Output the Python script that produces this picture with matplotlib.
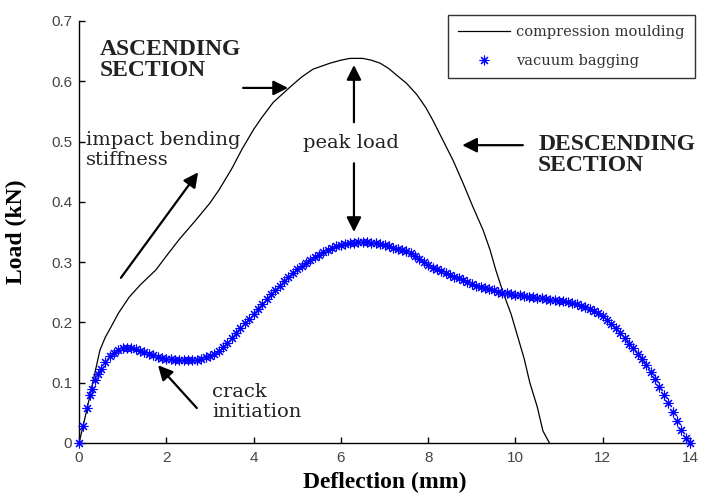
import matplotlib
matplotlib.use("Agg")
import matplotlib.pyplot as plt

# ---- data ----
cm_x = [0, 0.1, 0.2, 0.3, 0.4, 0.48, 0.6, 0.73, 0.9, 1.15, 1.4, 1.76, 2.0, 2.3, 2.68,
        3.0, 3.21, 3.5, 3.74, 4.0, 4.19, 4.45, 4.83, 5.1, 5.36, 5.75, 6.0, 6.21, 6.5,
        6.7, 6.9, 7.1, 7.28, 7.5, 7.74, 7.95, 8.11, 8.34, 8.57, 8.8, 9.03, 9.26, 9.42,
        9.55, 9.72, 9.9, 10.03, 10.2, 10.33, 10.5, 10.63, 10.78]
cm_y = [0, 0.03, 0.062, 0.095, 0.128, 0.154, 0.175, 0.192, 0.215, 0.242, 0.262, 0.287, 0.31,
        0.338, 0.37, 0.398, 0.42, 0.455, 0.488, 0.52, 0.54, 0.565, 0.59, 0.607, 0.62,
        0.630, 0.635, 0.638, 0.638, 0.635, 0.630, 0.621, 0.61, 0.597, 0.578, 0.556,
        0.535, 0.502, 0.469, 0.431, 0.391, 0.353, 0.32, 0.287, 0.249, 0.214, 0.182,
        0.14, 0.10, 0.06, 0.02, 0.0]

vb_x = [0, 0.1, 0.18, 0.25, 0.3, 0.37, 0.43, 0.5, 0.6, 0.7, 0.8, 0.9, 1.0, 1.1, 1.2, 1.3,
        1.4, 1.5, 1.6, 1.7, 1.8, 1.9, 2.0, 2.1, 2.2, 2.3, 2.4, 2.5, 2.6, 2.7, 2.8, 2.9,
        3.0, 3.1, 3.2, 3.3, 3.4, 3.5, 3.6, 3.7, 3.8, 3.9, 4.0, 4.1, 4.2, 4.3, 4.4, 4.5,
        4.6, 4.7, 4.8, 4.9, 5.0, 5.1, 5.2, 5.3, 5.4, 5.5, 5.6, 5.7, 5.8, 5.9, 6.0, 6.1,
        6.2, 6.3, 6.4, 6.5, 6.6, 6.7, 6.8, 6.9, 7.0, 7.1, 7.2, 7.3, 7.4, 7.5, 7.6, 7.7,
        7.8, 7.9, 8.0, 8.1, 8.2, 8.3, 8.4, 8.5, 8.6, 8.7, 8.8, 8.9, 9.0, 9.1, 9.2, 9.3,
        9.4, 9.5, 9.6, 9.7, 9.8, 9.9, 10.0, 10.1, 10.2, 10.3, 10.4, 10.5, 10.6, 10.7,
        10.8, 10.9, 11.0, 11.1, 11.2, 11.3, 11.4, 11.5, 11.6, 11.7, 11.8, 11.9, 12.0,
        12.1, 12.2, 12.3, 12.4, 12.5, 12.6, 12.7, 12.8, 12.9, 13.0, 13.1, 13.2, 13.3,
        13.4, 13.5, 13.6, 13.7, 13.8, 13.9, 14.0]
vb_y = [0, 0.028, 0.058, 0.08, 0.09, 0.104, 0.114, 0.123, 0.134, 0.144, 0.150, 0.155,
        0.157, 0.158, 0.157, 0.156, 0.153, 0.151, 0.148, 0.146, 0.143, 0.141, 0.140,
        0.139, 0.138, 0.137, 0.137, 0.137, 0.138, 0.138, 0.140, 0.142, 0.144, 0.148,
        0.153, 0.160, 0.166, 0.174, 0.183, 0.191, 0.199, 0.206, 0.214, 0.222, 0.231,
        0.239, 0.247, 0.254, 0.261, 0.268, 0.275, 0.282, 0.288, 0.293, 0.298, 0.303,
        0.308, 0.312, 0.316, 0.320, 0.323, 0.326, 0.328, 0.330, 0.331, 0.332, 0.333,
        0.333, 0.333, 0.332, 0.331, 0.330, 0.328, 0.326, 0.324, 0.322, 0.320, 0.318,
        0.315, 0.311, 0.305, 0.300, 0.295, 0.291, 0.288, 0.285, 0.282, 0.279, 0.276,
        0.273, 0.270, 0.267, 0.264, 0.261, 0.259, 0.257, 0.255, 0.253, 0.251, 0.249,
        0.248, 0.247, 0.246, 0.245, 0.244, 0.243, 0.242, 0.241, 0.240, 0.239, 0.238,
        0.237, 0.236, 0.235, 0.234, 0.232, 0.230, 0.228, 0.226, 0.223, 0.219, 0.215,
        0.210, 0.204, 0.197, 0.190, 0.182, 0.174, 0.165, 0.157, 0.148, 0.139, 0.129,
        0.118, 0.106, 0.093, 0.080, 0.066, 0.052, 0.037, 0.022, 0.009, 0.0]

x_ticks = [0, 2, 4, 6, 8, 10, 12, 14]
y_ticks = [0, 0.1, 0.2, 0.3, 0.4, 0.5, 0.6, 0.7]
y_tick_labels = ["0", "0.1", "0.2", "0.3", "0.4", "0.5", "0.6", "0.7"]
series_labels = ["compression moulding", "vacuum bagging"]

# ---- figure ----
fig = plt.figure(figsize=(7.02, 4.97), dpi=100)
ax = fig.add_axes([79 / 702, 54 / 497, 611 / 702, 422 / 497])

ast = (8, 2, 0)
ax.plot(cm_x, cm_y, color="black", lw=0.9, label=series_labels[0], zorder=3)
ax.plot(vb_x, vb_y, linestyle="none", marker=ast, markersize=7, markeredgewidth=0.8,
        color=(0, 0, 1), label=series_labels[1], clip_on=False, zorder=4)

ax.set_xlim(0, 14)
ax.set_ylim(0, 0.7)
ax.set_xticks(x_ticks)
ax.set_xticklabels([str(t) for t in x_ticks])
ax.set_yticks(y_ticks)
ax.set_yticklabels(y_tick_labels)
for s in ["top", "right"]:
    ax.spines[s].set_visible(False)
for s in ["left", "bottom"]:
    ax.spines[s].set_linewidth(1.0)
ax.tick_params(direction="in", length=4, width=1, labelsize=11, labelcolor="#444444",
               top=False, right=False)
ax.tick_params(axis="y", pad=5)
ax.tick_params(axis="x", pad=6)
for lab in ax.get_xticklabels() + ax.get_yticklabels():
    lab.set_family("Liberation Sans")

serif_b = dict(family="Liberation Serif", weight="bold")
ax.set_xlabel("Deflection (mm)", fontsize=17, **serif_b)
ax.set_ylabel("Load (kN)", fontsize=17, **serif_b)
ax.xaxis.set_label_coords(0.5, -0.068)
ax.yaxis.set_label_coords(-0.085, 0.5)

leg = ax.legend(loc="upper right", bbox_to_anchor=(695 / 702, 1 - 15 / 497),
                bbox_transform=fig.transFigure, frameon=True, fancybox=False,
                prop={"family": "DejaVu Serif", "size": 10.5}, handlelength=3.6,
                handletextpad=0.4, labelspacing=1.0, borderpad=0.7, borderaxespad=0)
leg.get_frame().set_edgecolor("black")
leg.get_frame().set_linewidth(1.0)
for t in leg.get_texts():
    t.set_color("#333333")

# ---- annotations ----
arr = dict(arrowstyle="-|>", color="black", lw=1.6, mutation_scale=22,
           shrinkA=0, shrinkB=0)

ax.text(0.48, 0.670, "ASCENDING\nSECTION", fontsize=17, va="top", ha="left",
        linespacing=1.0, color="#222222", **serif_b)
ax.annotate("", xy=(4.79, 0.589), xytext=(3.76, 0.589), arrowprops=arr)

ax.text(0.16, 0.517, "impact bending\nstiffness", fontsize=14, va="top", ha="left",
        family="DejaVu Serif", linespacing=1.15, color="#222222")
ax.annotate("", xy=(2.73, 0.449), xytext=(0.96, 0.274), arrowprops=arr)

ax.text(5.13, 0.489, "peak load", fontsize=14, va="baseline", ha="left",
        family="DejaVu Serif", color="#222222")
ax.annotate("", xy=(6.30, 0.627), xytext=(6.30, 0.532), arrowprops=arr)
ax.annotate("", xy=(6.30, 0.350), xytext=(6.30, 0.464), arrowprops=arr)

ax.text(10.52, 0.513, "DESCENDING\nSECTION", fontsize=17, va="top", ha="left",
        linespacing=1.0, color="#222222", **serif_b)
ax.annotate("", xy=(8.78, 0.494), xytext=(10.17, 0.494), arrowprops=arr)

ax.text(3.05, 0.100, "crack\ninitiation", fontsize=14, va="top", ha="left",
        family="DejaVu Serif", linespacing=1.15, color="#222222")
ax.annotate("", xy=(1.81, 0.129), xytext=(2.70, 0.058), arrowprops=arr)

fig.savefig("out.png", dpi=100)
